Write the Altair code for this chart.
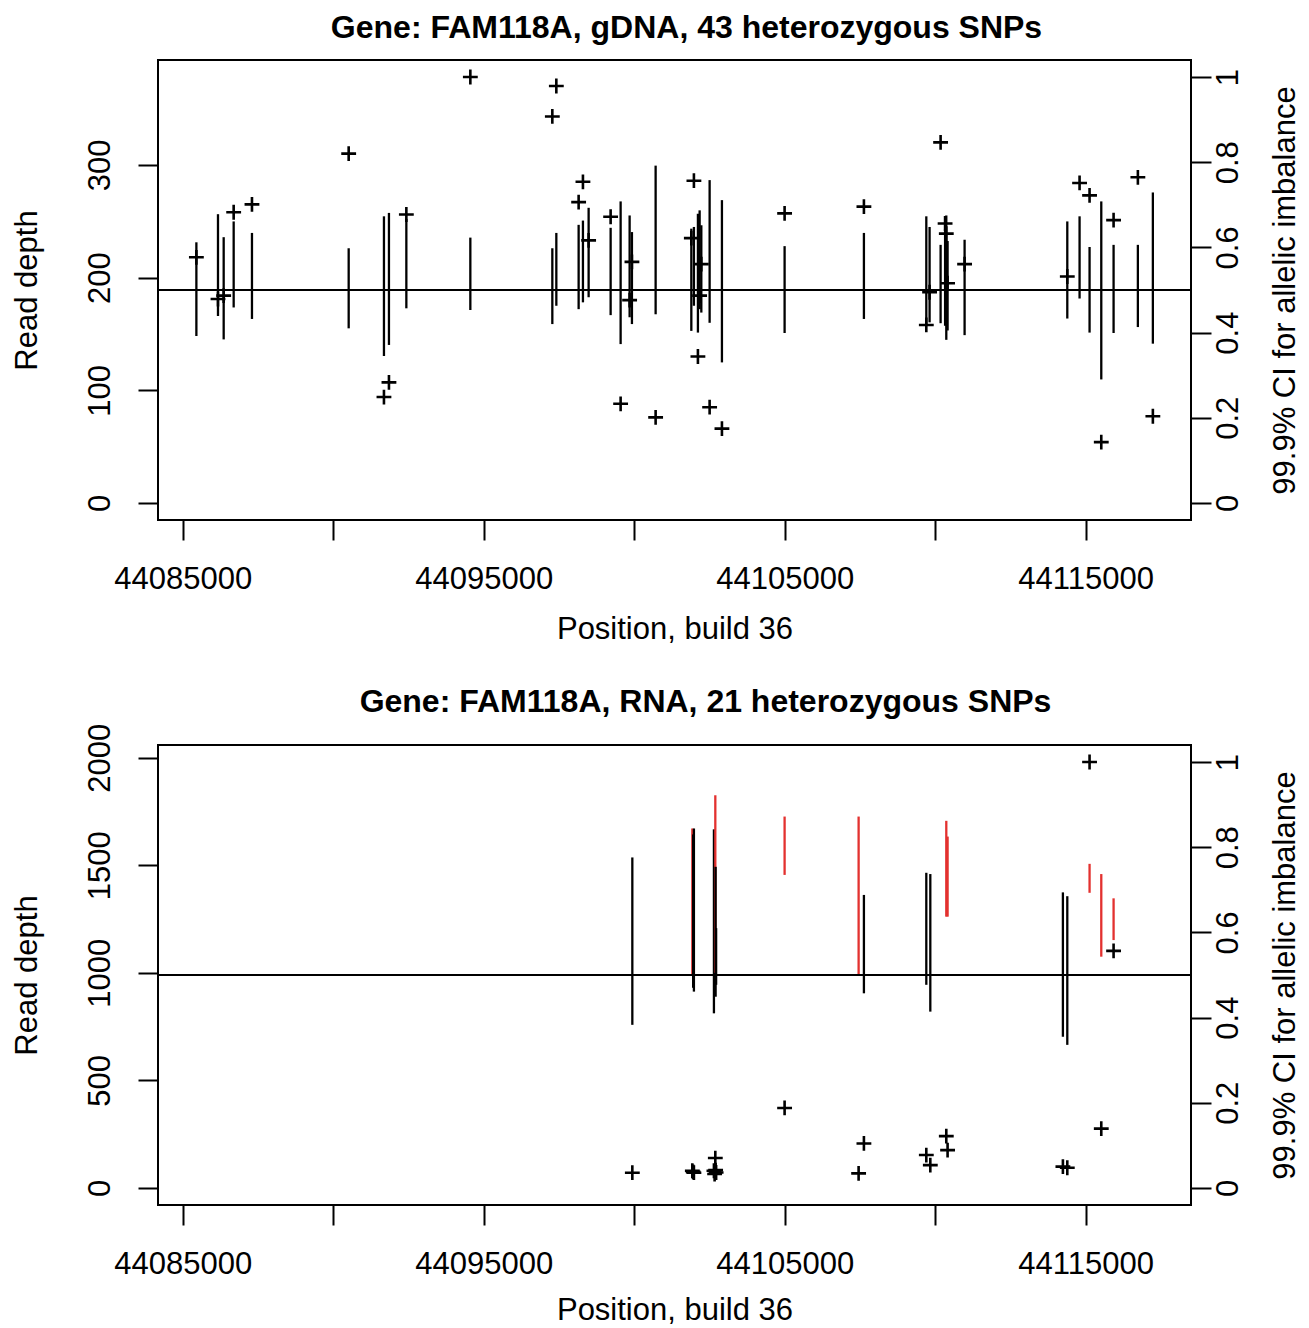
import altair as alt
import pandas as pd

FONT = "Liberation Sans"
RED = "#e3312f"

# ---------------- gDNA panel (43 SNPs) ----------------
dna_pos = [44085455, 44086173, 44086362, 44086694, 44087302, 44090515, 44091687,
           44091853, 44092431, 44094557, 44097281, 44097414, 44098155, 44098298,
           44098487, 44099218, 44099550, 44099849, 44099926, 44100713, 44101899,
           44101985, 44102118, 44102175, 44102231, 44102507, 44102916, 44104998,
           44107633, 44109706, 44109815, 44110181, 44110330, 44110370, 44110413,
           44110978, 44114390, 44114798, 44115130, 44115519, 44115928, 44116735,
           44117233]
dna_depth = [218, 181, 184, 258, 265, 310, 94, 107, 256, 378, 343, 370, 267, 285,
             233, 254, 88, 180, 214, 76, 235, 286, 130, 184, 212, 85, 66, 257,
             263, 158, 187, 320, 248, 239, 195, 212, 201, 284, 273, 54, 251, 289, 77]
dna_lo = [0.392, 0.439, 0.384, 0.459, 0.432, 0.410, 0.345, 0.371, 0.457, 0.453,
          0.420, 0.463, 0.455, 0.471, 0.483, 0.441, 0.373, 0.436, 0.420, 0.443,
          0.404, 0.463, 0.400, 0.455, 0.447, 0.423, 0.330, 0.399, 0.432, 0.416,
          0.424, 0.422, 0.416, 0.383, 0.405, 0.394, 0.433, 0.480, 0.400, 0.290,
          0.399, 0.413, 0.374]
dna_hi = [0.612, 0.678, 0.624, 0.661, 0.634, 0.598, 0.673, 0.681, 0.667, 0.623,
          0.598, 0.634, 0.653, 0.663, 0.693, 0.646, 0.708, 0.675, 0.636, 0.792,
          0.644, 0.648, 0.679, 0.687, 0.652, 0.758, 0.711, 0.603, 0.634, 0.673,
          0.648, 0.606, 0.644, 0.675, 0.615, 0.618, 0.661, 0.673, 0.601, 0.708,
          0.606, 0.606, 0.729]
dna_sig = ["ns"] * 43

# ---------------- RNA panel (21 SNPs) ----------------
rna_pos = [44099939, 44101932, 44101959, 44101985, 44102650, 44102673, 44102696,
           44102706, 44102723, 44104998, 44107457, 44107633, 44109706, 44109839,
           44110370, 44110413, 44114244, 44114390, 44115130, 44115519, 44115928]
rna_depth = [71, 80, 75, 71, 80, 65, 139, 83, 72, 372, 68, 207, 153, 106,
             241, 176, 99, 94, 1980, 276, 1102]
rna_lo = [0.383, 0.500, 0.470, 0.461, 0.410, 0.460, 0.505, 0.449, 0.477, 0.735,
          0.500, 0.457, 0.477, 0.414, 0.637, 0.637, 0.355, 0.336, 0.693, 0.543, 0.582]
rna_hi = [0.776, 0.844, 0.830, 0.844, 0.842, 0.820, 0.922, 0.754, 0.610, 0.872,
          0.872, 0.688, 0.740, 0.737, 0.862, 0.825, 0.694, 0.685, 0.761, 0.737, 0.680]
rna_sig = ["ns", "sig", "ns", "ns", "ns", "ns", "sig", "ns", "ns", "sig",
           "sig", "ns", "ns", "ns", "sig", "sig", "ns", "ns", "sig", "sig", "sig"]

x_ticks = [44085000, 44090000, 44095000, 44100000, 44105000, 44110000, 44115000]
x_domain = [44084180, 44118500]
ci_ticks = [0, 0.2, 0.4, 0.6, 0.8, 1]

W, H = 1033, 460
CROSS = "M-1,0L1,0M0,-1L0,1"


def x_enc(title_y):
    return alt.X(
        "pos:Q",
        scale=alt.Scale(domain=x_domain, nice=False, zero=False),
        axis=alt.Axis(
            values=x_ticks, format="d",
            labelExpr="(datum.value - 44085000) % 10000 == 0 ? datum.label : ''",
            title="Position, build 36", tickSize=20, tickWidth=2, tickColor="black",
            domain=False, grid=False, labelFontSize=31, labelFont=FONT,
            labelColor="black", labelPadding=39, labelBaseline="middle",
            labelAlign="center", labelFlush=False, labelOverlap=False,
            titleFontSize=31, titleFont=FONT, titleFontWeight="normal",
            titleColor="black", titleX=W / 2, titleY=title_y, titleAlign="center",
            titleBaseline="middle",
        ),
    )


def panel(title, dx, toff, title_y, pos, depth, lo, hi, sig, depth_domain, depth_ticks):
    pts_df = pd.DataFrame({"pos": pos, "depth": depth})
    ci_df = pd.DataFrame({"pos": pos, "lo": lo, "hi": hi, "sig": sig})
    h_df = pd.DataFrame({"lo": [0.5]})

    left_axis = alt.Axis(
        orient="left", values=depth_ticks, format="d", title="Read depth",
        tickSize=20, tickWidth=2, tickColor="black", domain=False, grid=False,
        labelFontSize=31, labelFont=FONT, labelColor="black", labelAngle=-90,
        labelAlign="center", labelBaseline="middle", labelPadding=38,
        labelFlush=False, labelOverlap=False,
        titleFontSize=31, titleFont=FONT, titleFontWeight="normal", titleColor="black",
        titleAngle=-90, titleX=-131, titleY=H / 2, titleAlign="center",
        titleBaseline="middle",
    )
    right_axis = alt.Axis(
        orient="right", values=ci_ticks, format="~g",
        title="99.9% CI for allelic imbalance",
        tickSize=20, tickWidth=2, tickColor="black", domain=False, grid=False,
        labelFontSize=31, labelFont=FONT, labelColor="black", labelAngle=-90,
        labelAlign="center", labelBaseline="middle", labelPadding=17,
        labelFlush=False, labelOverlap=False,
        titleFontSize=31, titleFont=FONT, titleFontWeight="normal", titleColor="black",
        titleAngle=-90, titleX=94, titleY=H / 2, titleAlign="center",
        titleBaseline="middle",
    )
    ci_scale = alt.Scale(domain=[-0.04, 1.04], nice=False, zero=False)

    pts = alt.Chart(pts_df).mark_point(
        shape=CROSS, filled=False, size=220, strokeWidth=2.6, color="black",
        opacity=1, strokeCap="butt",
    ).encode(
        x=x_enc(title_y),
        y=alt.Y("depth:Q", scale=alt.Scale(domain=depth_domain, nice=False, zero=False),
                axis=left_axis),
    )
    ci = alt.Chart(ci_df).mark_rule(strokeWidth=2.3, strokeCap="butt").encode(
        x=x_enc(title_y),
        y=alt.Y("lo:Q", scale=ci_scale, axis=right_axis),
        y2="hi:Q",
        color=alt.Color("sig:N", scale=alt.Scale(domain=["ns", "sig"], range=["black", RED]),
                        legend=None),
    )
    hline = alt.Chart(h_df).mark_rule(strokeWidth=2, color="black").encode(
        y=alt.Y("lo:Q", scale=ci_scale, axis=right_axis),
    )
    return alt.layer(pts, alt.layer(ci, hline)).resolve_scale(y="independent").properties(
        width=W, height=H,
        title=alt.TitleParams(
            text=title, font=FONT, fontSize=32, fontWeight="bold", color="black",
            anchor="middle", frame="group", dx=dx, offset=toff, baseline="alphabetic",
        ),
    )


top = panel("Gene: FAM118A, gDNA, 43 heterozygous SNPs", 12, -10, 109,
            dna_pos, dna_depth, dna_lo, dna_hi, dna_sig, [-15.1, 393.1], [0, 100, 200, 300])
bottom = panel("Gene: FAM118A, RNA, 21 heterozygous SNPs", 31, -21, 105,
               rna_pos, rna_depth, rna_lo, rna_hi, rna_sig, [-79.2, 2059.2],
               [0, 500, 1000, 1500, 2000])

chart = alt.vconcat(top, bottom, spacing=40).properties(
    padding={"left": 2, "top": 3, "right": 0, "bottom": 0},
).configure(background="white").configure_view(stroke="black", strokeWidth=2)

chart.save("out.html", embed_options={"renderer": "svg", "actions": False})
